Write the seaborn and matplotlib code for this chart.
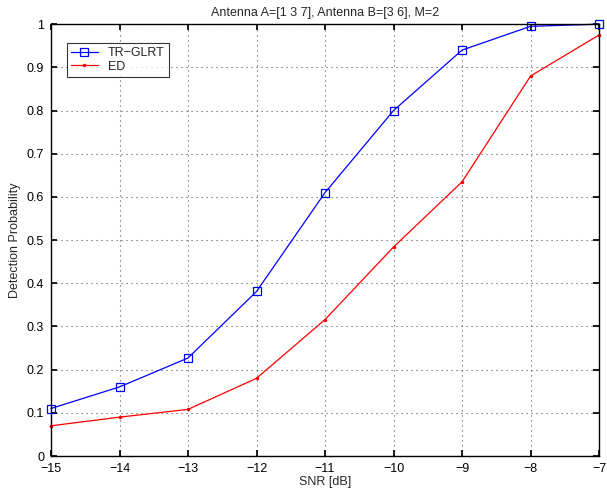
import seaborn as sns
import matplotlib.pyplot as plt
import pandas as pd

snr = [-15, -14, -13, -12, -11, -10, -9, -8, -7]
tr_glrt = [0.11, 0.16, 0.227, 0.381, 0.61, 0.80, 0.94, 0.995, 1.0]
ed = [0.07, 0.09, 0.108, 0.18, 0.316, 0.484, 0.635, 0.88, 0.975]

df = pd.DataFrame({'SNR': snr * 2,
                   'Pd': tr_glrt + ed,
                   'method': ['TR\u2212GLRT'] * len(snr) + ['ED'] * len(snr)})

sns.set_theme(style="white")
plt.rcParams['font.family'] = ['Liberation Sans', 'DejaVu Sans']

fig = plt.figure(figsize=(6.07, 4.93), dpi=100)
ax = fig.add_axes([0.084, 0.075, 0.903, 0.876])

sns.lineplot(data=df, x='SNR', y='Pd', hue='method', style='method',
             palette={'TR\u2212GLRT': 'blue', 'ED': 'red'},
             markers={'TR\u2212GLRT': 's', 'ED': 'o'}, dashes=False,
             markersize=6, linewidth=0.9, ax=ax)

ax.set_xlim(-15, -7)
ax.set_ylim(0, 1)
ax.set_xticks(range(-15, -6))
ax.set_xticklabels([str(v).replace('-', '\u2212') for v in range(-15, -6)])
ax.set_yticks([i / 10 for i in range(11)])
ax.set_yticklabels(['0'] + ['%.1f' % (i / 10) for i in range(1, 10)] + ['1'])
ax.tick_params(direction='in', length=4, labelsize=9, colors='black',
               top=True, right=True, bottom=True, left=True)
ax.tick_params(axis='x', pad=5)
ax.tick_params(axis='y', pad=5)
ax.grid(True, linestyle=(0, (1, 3.5)), color='#555555', linewidth=0.8)
for s in ax.spines.values():
    s.set_color('black')
    s.set_linewidth(1.0)

ax.set_xlabel('SNR [dB]', fontsize=9, labelpad=1)
ax.set_ylabel('Detection Probability', fontsize=9, labelpad=4)
ax.set_title('Antenna A=[1 3 7], Antenna B=[3 6], M=2', fontsize=9, pad=6)

leg = ax.legend(loc='upper left', bbox_to_anchor=(0.029, 0.956), fontsize=9,
                frameon=True, fancybox=False, edgecolor='black',
                borderpad=0.3, labelspacing=0.15, handlelength=2.2,
                borderaxespad=0)
leg.get_frame().set_linewidth(0.8)

for line in ax.lines:
    line.set_clip_on(False)
for line in ax.lines + leg.get_lines():
    if line.get_marker() == 's':
        line.set_markerfacecolor('none')
        line.set_markeredgecolor('blue')
        line.set_markeredgewidth(0.9)
        line.set_markersize(6)
    elif line.get_marker() == 'o':
        line.set_markersize(2.5)
        line.set_markeredgewidth(0)
        line.set_markerfacecolor('red')

fig.savefig('out.png', dpi=100)
